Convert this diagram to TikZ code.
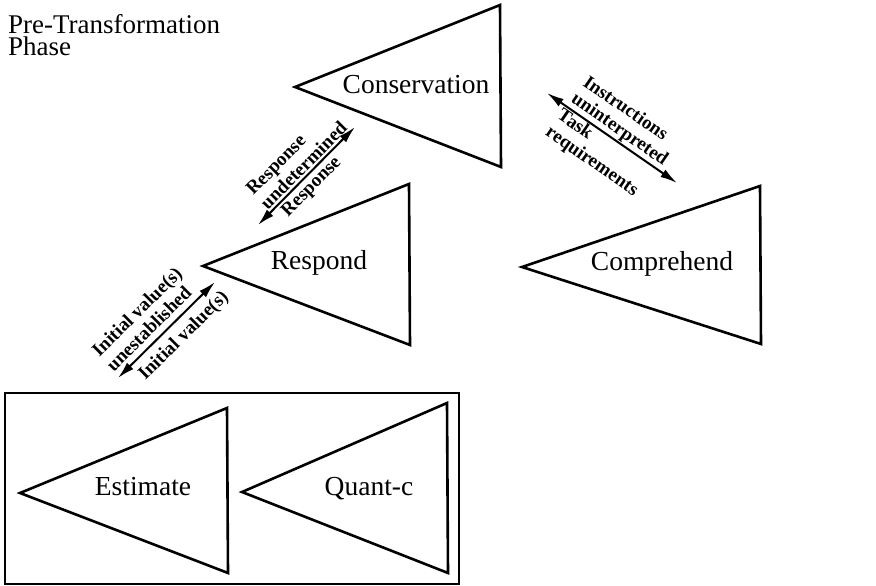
\documentclass[tikz,border=0pt]{standalone}
\usepackage{fontspec}
\setmainfont{Liberation Serif}
\usetikzlibrary{arrows.meta}
\begin{document}
\begin{tikzpicture}[x=1pt,y=-1pt,
  tri/.style={line width=2.6pt, line join=miter},
  tlabel/.style={font=\fontsize{27.5}{30}\selectfont, anchor=base, inner sep=0pt},
  conn/.style={line width=2pt, {Latex[length=17pt,width=9pt]}-{Latex[length=17pt,width=9pt]}},
  alab/.style={font=\bfseries\fontsize{19}{20.5}\selectfont, align=left, sloped, inner sep=1pt}
]
\useasboundingbox (0,0) rectangle (876,586);

% title
\node (title) [anchor=north west, align=left, inner sep=0pt,
  font=\fontsize{27}{22}\selectfont] at (8,14) {Pre-Transformation\\Phase};

% triangles
\draw[tri] (295,87) -- (500,5) -- (501,167) -- cycle;
\node[tlabel] (cons) at (416,93) {Conservation};

\draw[tri] (203,266) -- (409,184) -- (410,345) -- cycle;
\node[tlabel] (resp) at (319,269) {Respond};

\draw[tri] (522,267) -- (760,186) -- (761,344) -- cycle;
\node[tlabel] (comp) at (662,270) {Comprehend};

% box
\draw[line width=1.2pt] (5,393) rectangle (459,584);
\draw[tri] (20,493) -- (227,408) -- (228,573) -- cycle;
\node[tlabel] (est) at (143,495) {Estimate};
\draw[tri] (242,492) -- (447,403) -- (448,573) -- cycle;
\node[tlabel] (quant) at (369,495) {Quant-c};

% connector end points
\coordinate (a1s) at (258,225);
\coordinate (a1e) at (355,127);
\coordinate (a2s) at (547,93);
\coordinate (a2e) at (677,183);
\coordinate (a3s) at (118,378);
\coordinate (a3e) at (215,282);

\draw[conn] (a1s) -- (a1e)
  node[alab, pos=0.54, above=1pt] {Response\\undetermined}
  node[alab, pos=0.47, below=1.5pt] {Response};

\draw[conn] (a2s) -- (a2e)
  node[alab, pos=0.51, above=0pt] {Instructions\\uninterpreted}
  node[alab, pos=0.48, below=0pt] {Task\\requirements};

\draw[conn] (a3s) -- (a3e)
  node[alab, pos=0.44, above=5pt] {Initial value(s)\\unestablished}
  node[alab, pos=0.56, below=6pt] {Initial value(s)};
\end{tikzpicture}
\end{document}
